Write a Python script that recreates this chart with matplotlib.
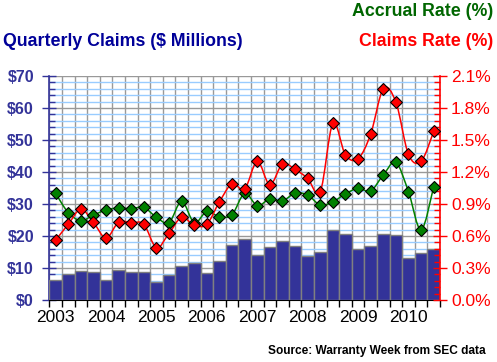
import numpy as np
import matplotlib
matplotlib.use("Agg")
import matplotlib.pyplot as plt
from matplotlib.path import Path
from matplotlib.patches import PathPatch
from matplotlib.ticker import MultipleLocator, FuncFormatter

plt.rcParams['font.family'] = ['Liberation Sans', 'DejaVu Sans']

years = ['2003', '2004', '2005', '2006', '2007', '2008', '2009', '2010']
claims = [6.25, 8.0, 9.1, 8.75, 6.25, 9.4, 8.75, 8.75,
          5.6, 7.7, 10.5, 11.7, 8.4, 12.2, 17.2, 19.0,
          14.0, 16.5, 18.3, 16.8, 13.6, 14.9, 21.8, 20.5,
          15.8, 16.8, 20.5, 20.2, 13.0, 14.6, 15.8]
claims_rate = [0.56, 0.71, 0.85, 0.73, 0.58, 0.73, 0.725, 0.71,
               0.49, 0.625, 0.775, 0.70, 0.71, 0.92, 1.09, 1.04,
               1.30, 1.08, 1.275, 1.225, 1.14, 1.015, 1.655, 1.36,
               1.325, 1.555, 1.98, 1.855, 1.365, 1.30, 1.58]
accrual_rate = [1.00, 0.82, 0.745, 0.795, 0.845, 0.862, 0.856, 0.868,
                0.775, 0.725, 0.925, 0.725, 0.83, 0.78, 0.80, 1.00,
                0.885, 0.947, 0.93, 1.00, 0.985, 0.89, 0.92, 0.995,
                1.047, 1.022, 1.172, 1.29, 1.016, 0.656, 1.062]

NAVY = '#333399'
RED = '#ff0000'
GREEN = '#006600'

fig = plt.figure(figsize=(4.97, 3.62), dpi=100)
ax = fig.add_axes([49.3/497, 62/362, (440-49.3)/497, (300-76)/362])

n = len(claims)
xs = np.arange(n) + 0.5
ax.bar(xs, claims, width=1.0, color=NAVY, edgecolor='#808080', linewidth=1.0, zorder=3)

ax.set_xlim(0, n)
ax.set_ylim(0, 70)
ax.yaxis.set_major_locator(MultipleLocator(10))
ax.yaxis.set_minor_locator(MultipleLocator(2))
ax.yaxis.set_major_formatter(FuncFormatter(lambda v, p: f'${int(v)}'))
ax.set_xticks(np.arange(0, n + 1))
ax.set_xticklabels([])
ax.grid(True, axis='y', which='minor', color='#99ccff', linewidth=1.0, zorder=0)
ax.grid(True, axis='y', which='major', color='#999999', linewidth=1.0, zorder=0)
ax.grid(True, axis='x', which='major', color='#999999', linewidth=1.0, zorder=0)
ax.set_axisbelow(True)

ax.tick_params(axis='y', which='major', direction='inout', length=10, width=1,
               color=NAVY, labelcolor=NAVY, labelsize=11.5, pad=6)
ax.tick_params(axis='y', which='minor', direction='in', length=4, width=1, color=NAVY)
for lab in ax.get_yticklabels():
    lab.set_fontweight('bold')
ax.tick_params(axis='x', which='major', direction='out', length=5, width=1, color='black')

ax.spines['top'].set_visible(False)
ax.spines['left'].set_color(NAVY)
ax.spines['left'].set_linewidth(1.2)
ax.spines['bottom'].set_color('black')
ax.spines['right'].set_visible(False)

for k, y in enumerate(years):
    ax.text(4 * k + 0.5, -0.08, y, transform=ax.get_xaxis_transform(),
            ha='center', va='center', fontsize=12.5, color='black')

ax2 = ax.twinx()
ax2.set_ylim(0, 2.1)
ax2.yaxis.set_major_locator(MultipleLocator(0.3))
ax2.yaxis.set_minor_locator(MultipleLocator(0.06))
ax2.yaxis.set_major_formatter(FuncFormatter(lambda v, p: f'{v:.1f}%'))
ax2.tick_params(axis='y', which='major', direction='inout', length=10, width=1,
                color=RED, labelcolor=RED, labelsize=12.5, pad=3)
ax2.tick_params(axis='y', which='minor', direction='in', length=4, width=1, color=RED)
ax2.spines['right'].set_color(RED)
ax2.spines['right'].set_linewidth(1.2)
for s in ['top', 'left', 'bottom']:
    ax2.spines[s].set_visible(False)


def smooth_patch(x, y, color):
    pts = np.column_stack([x, y])
    m = len(pts)
    verts = [tuple(pts[0])]
    codes = [Path.MOVETO]
    for i in range(m - 1):
        p0 = pts[i - 1] if i > 0 else pts[i]
        p1 = pts[i]
        p2 = pts[i + 1]
        p3 = pts[i + 2] if i + 2 < m else pts[i + 1]
        c1 = p1 + (p2 - p0) / 6.0
        c2 = p2 - (p3 - p1) / 6.0
        verts += [tuple(c1), tuple(c2), tuple(p2)]
        codes += [Path.CURVE4] * 3
    return PathPatch(Path(verts, codes), facecolor='none', edgecolor=color,
                     linewidth=1.1, transform=ax2.transData, zorder=4)


ax2.add_patch(smooth_patch(xs, accrual_rate, '#008000'))
ax2.add_patch(smooth_patch(xs, claims_rate, RED))
ax2.plot(xs, accrual_rate, linestyle='none', marker='D', ms=5.8,
         mfc='#008000', mec='black', mew=0.8, zorder=5)
ax2.plot(xs, claims_rate, linestyle='none', marker='D', ms=5.8,
         mfc=RED, mec='black', mew=0.8, zorder=5)

fig.text(3/497, 1 - 42/362, 'Quarterly Claims ($ Millions)', ha='left', va='center',
         fontsize=12.8, fontweight='bold', color='#000099')
fig.text(493/497, 1 - 12/362, 'Accrual Rate (%)', ha='right', va='center',
         fontsize=12.8, fontweight='bold', color=GREEN)
fig.text(493/497, 1 - 42/362, 'Claims Rate (%)', ha='right', va='center',
         fontsize=12.8, fontweight='bold', color=RED)
fig.text(486/497, 1 - 351/362, 'Source: Warranty Week from SEC data', ha='right', va='center',
         fontsize=8.6, fontweight='bold', color='black')

fig.savefig('out.png', dpi=100)
